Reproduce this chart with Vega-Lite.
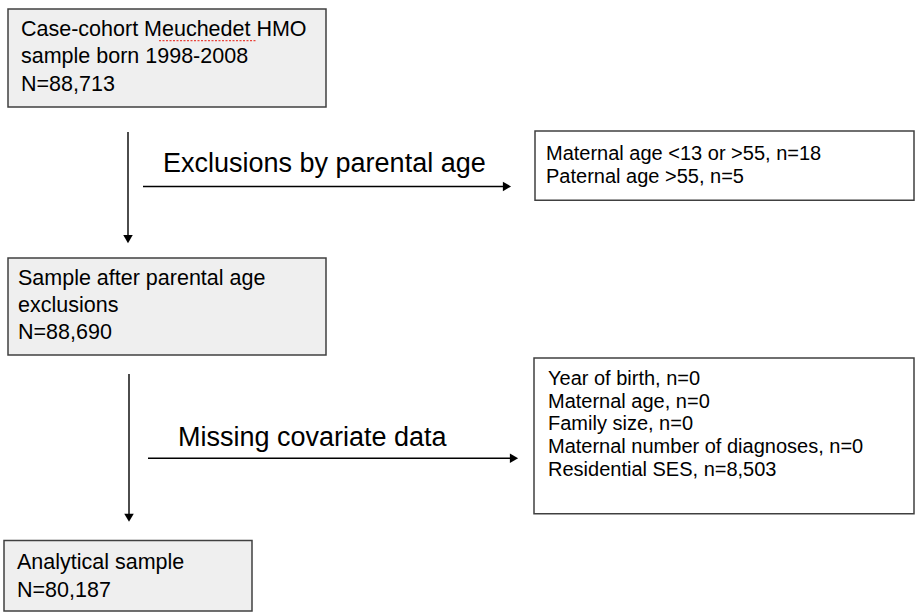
{
  "$schema": "https://vega.github.io/schema/vega-lite/v6.json",
  "width": 915,
  "height": 612,
  "padding": 0,
  "autosize": {"type": "fit", "contains": "padding"},
  "background": "#ffffff",
  "config": {"view": {"stroke": null}, "axis": {"disable": true}},
  "datasets": {
    "boxes": [
      {"id": "b1", "kind": "main", "x": 8, "x2": 326, "y": 9, "y2": 108},
      {"id": "b2", "kind": "side", "x": 535, "x2": 914, "y": 132, "y2": 202},
      {"id": "b3", "kind": "main", "x": 8, "x2": 326, "y": 260, "y2": 358},
      {"id": "b4", "kind": "side", "x": 534, "x2": 914, "y": 361, "y2": 518},
      {"id": "b5", "kind": "main", "x": 4, "x2": 252, "y": 545, "y2": 616}
    ],
    "arrows": [
      {"id": "a1", "x": 128, "x2": 128, "y": 133, "y2": 240},
      {"id": "a2", "x": 143, "x2": 506, "y": 188, "y2": 188},
      {"id": "a3", "x": 129, "x2": 129, "y": 377, "y2": 521},
      {"id": "a4", "x": 148, "x2": 513, "y": 462, "y2": 462}
    ],
    "heads": [
      {"id": "a1", "dir": "down", "x": 128, "y": 241},
      {"id": "a2", "dir": "right", "x": 507, "y": 188},
      {"id": "a3", "dir": "down", "x": 129, "y": 522},
      {"id": "a4", "dir": "right", "x": 514, "y": 462}
    ],
    "underline": [
      {"word": "Meuchedet", "x": 159, "x2": 256, "y": 41}
    ],
    "texts": [
      {"role": "box", "x": 21, "y": 36, "text": "Case-cohort Meuchedet HMO"},
      {"role": "box", "x": 21, "y": 64, "text": "sample born 1998-2008"},
      {"role": "box", "x": 21, "y": 92, "text": "N=88,713"},
      {"role": "box", "x": 18, "y": 287, "text": "Sample after parental age"},
      {"role": "box", "x": 18, "y": 315, "text": "exclusions"},
      {"role": "box", "x": 18, "y": 342, "text": "N=88,690"},
      {"role": "box", "x": 17, "y": 574, "text": "Analytical sample"},
      {"role": "box", "x": 17, "y": 602, "text": "N=80,187"},
      {"role": "side", "x": 546, "y": 161, "text": "Maternal age <13 or >55, n=18"},
      {"role": "side", "x": 546, "y": 185, "text": "Paternal age >55, n=5"},
      {"role": "side", "x": 548, "y": 388, "text": "Year of birth, n=0"},
      {"role": "side", "x": 548, "y": 411, "text": "Maternal age, n=0"},
      {"role": "side", "x": 548, "y": 434, "text": "Family size, n=0"},
      {"role": "side", "x": 548, "y": 457, "text": "Maternal number of diagnoses, n=0"},
      {"role": "side", "x": 548, "y": 480, "text": "Residential SES, n=8,503"},
      {"role": "label", "x": 163, "y": 173, "text": "Exclusions by parental age"},
      {"role": "label", "x": 178, "y": 450, "text": "Missing covariate data"}
    ]
  },
  "layer": [
    {
      "data": {"name": "boxes"},
      "mark": {"type": "rect", "stroke": "#404040", "strokeWidth": 1.5},
      "encoding": {
        "x": {"field": "x", "type": "quantitative", "scale": {"domain": [0, 915], "nice": false, "zero": false}, "axis": null},
        "x2": {"field": "x2"},
        "y": {"field": "y", "type": "quantitative", "scale": {"domain": [612, 0], "nice": false, "zero": false}, "axis": null},
        "y2": {"field": "y2"},
        "fill": {"field": "kind", "type": "nominal", "scale": {"domain": ["main", "side"], "range": ["#efefef", "#ffffff"]}, "legend": null}
      }
    },
    {
      "data": {"name": "underline"},
      "mark": {"type": "rule", "color": "#e8453c", "strokeWidth": 1.2, "strokeDash": [2, 1.5]},
      "encoding": {
        "x": {"field": "x", "type": "quantitative"},
        "x2": {"field": "x2"},
        "y": {"field": "y", "type": "quantitative"}
      }
    },
    {
      "data": {"name": "arrows"},
      "mark": {"type": "rule", "color": "#000000", "strokeWidth": 1.4},
      "encoding": {
        "x": {"field": "x", "type": "quantitative"},
        "x2": {"field": "x2"},
        "y": {"field": "y", "type": "quantitative"},
        "y2": {"field": "y2"}
      }
    },
    {
      "data": {"name": "heads"},
      "mark": {"type": "point", "filled": true, "color": "#000000", "size": 90, "opacity": 1},
      "encoding": {
        "x": {"field": "x", "type": "quantitative"},
        "y": {"field": "y", "type": "quantitative"},
        "shape": {"field": "dir", "type": "nominal", "scale": {"domain": ["down", "right"], "range": ["triangle-down", "triangle-right"]}, "legend": null}
      }
    },
    {
      "data": {"name": "texts"},
      "transform": [{"filter": "datum.role === 'box'"}],
      "mark": {"type": "text", "align": "left", "baseline": "alphabetic", "font": "Liberation Sans", "fontSize": 21.5, "color": "#000000"},
      "encoding": {
        "x": {"field": "x", "type": "quantitative"},
        "y": {"field": "y", "type": "quantitative"},
        "text": {"field": "text"}
      }
    },
    {
      "data": {"name": "texts"},
      "transform": [{"filter": "datum.role === 'side'"}],
      "mark": {"type": "text", "align": "left", "baseline": "alphabetic", "font": "Liberation Sans", "fontSize": 20, "color": "#000000"},
      "encoding": {
        "x": {"field": "x", "type": "quantitative"},
        "y": {"field": "y", "type": "quantitative"},
        "text": {"field": "text"}
      }
    },
    {
      "data": {"name": "texts"},
      "transform": [{"filter": "datum.role === 'label'"}],
      "mark": {"type": "text", "align": "left", "baseline": "alphabetic", "font": "Liberation Sans", "fontSize": 27, "color": "#000000"},
      "encoding": {
        "x": {"field": "x", "type": "quantitative"},
        "y": {"field": "y", "type": "quantitative"},
        "text": {"field": "text"}
      }
    }
  ]
}
